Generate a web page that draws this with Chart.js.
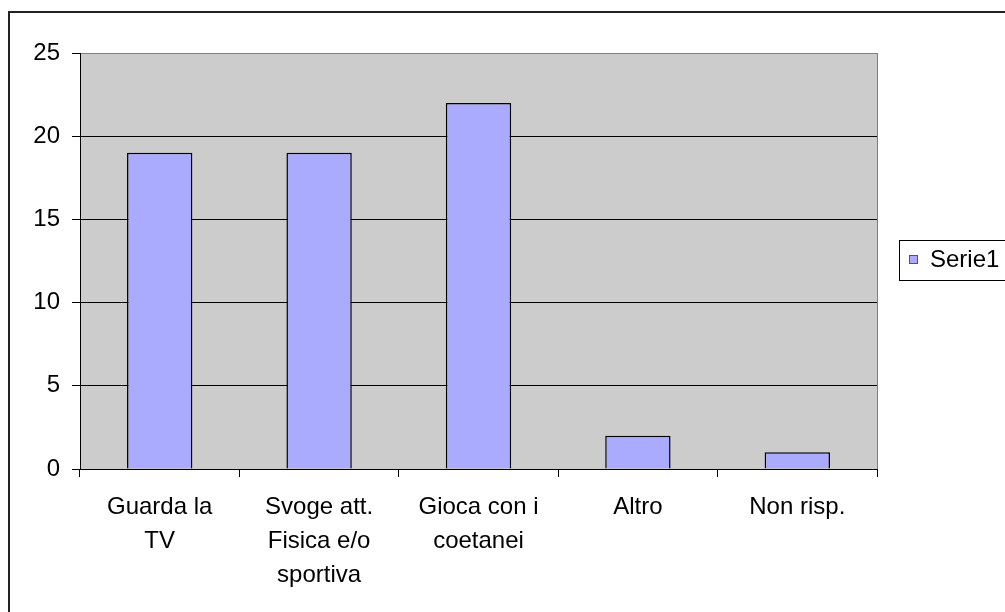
<!DOCTYPE html>
<html>
<head>
<meta charset="utf-8">
<script src="https://cdn.jsdelivr.net/npm/chart.js@4"></script>
<style>
  body { margin: 0; background: #fff; }
</style>
</head>
<body>
<canvas id="dataGraph" width="1005" height="612"></canvas>
<script>
// chart data
const categories = [
  ['Guarda la', 'TV'],
  ['Svoge att.', 'Fisica e/o', 'sportiva'],
  ['Gioca con i', 'coetanei'],
  'Altro',
  'Non risp.',
];
const serieName = 'Serie1';
const serieValues = [19, 19, 22, 2, 1];
const yTicks = [0, 5, 10, 15, 20, 25];

const labelFont = { family: 'Liberation Sans, Arial, sans-serif', size: 24, lineHeight: 1.42 };

// plugin: white page, outer frame, grey plot area and the boxed legend
const excelLook = {
  id: 'excelLook',
  beforeDraw(chart) {
    const c = chart.ctx;
    const a = chart.chartArea;
    c.save();
    c.fillStyle = '#fff';
    c.fillRect(0, 0, chart.width, chart.height);
    c.strokeStyle = '#222';
    c.lineWidth = 2;
    c.strokeRect(9, 12, chart.width + 20, chart.height + 20);
    c.fillStyle = '#CCCCCC';
    c.fillRect(a.left, a.top, a.right - a.left, a.bottom - a.top);
    c.restore();
  },
  afterDraw(chart) {
    const c = chart.ctx;
    const a = chart.chartArea;
    const ds = chart.data.datasets[0];
    c.save();
    // grey right edge of the plot area
    c.strokeStyle = '#808080';
    c.lineWidth = 1;
    c.beginPath();
    c.moveTo(Math.round(a.right) + 0.5, a.top);
    c.lineTo(Math.round(a.right) + 0.5, a.bottom);
    c.stroke();
    // legend box
    c.strokeStyle = '#000';
    c.strokeRect(899.5, 240.5, 200, 40);
    c.fillStyle = ds.backgroundColor;
    c.fillRect(909, 255, 8, 8);
    c.strokeStyle = '#555';
    c.strokeRect(909.5, 255.5, 8, 8);
    c.fillStyle = '#000';
    c.font = '24px "Liberation Sans", Arial, sans-serif';
    c.textBaseline = 'middle';
    c.fillText(ds.label, 930, 260);
    c.restore();
  },
};

const ctx = document.getElementById('dataGraph');
const myChart = new Chart(ctx, {
  type: 'bar',
  data: {
    labels: categories,
    datasets: [
      {
        label: serieName,
        data: serieValues,
        backgroundColor: '#AAAAFF',
        borderColor: '#000',
        borderWidth: 1.5,
        barPercentage: 0.41,
        categoryPercentage: 1,
      },
    ],
  },
  options: {
    responsive: false,
    animation: false,
    events: [],
    layout: {
      padding: { left: 0, top: 53, right: 128, bottom: 0 },
    },
    plugins: {
      legend: { display: false },
      tooltip: { enabled: false },
    },
    scales: {
      x: {
        grid: {
          drawOnChartArea: false,
          color: '#000',
          tickLength: 8,
        },
        border: { color: '#000', width: 1 },
        ticks: {
          color: '#000',
          font: labelFont,
          padding: 13,
          maxRotation: 0,
          autoSkip: false,
        },
        afterFit: (scale) => {
          scale.height = 143;
        },
      },
      y: {
        min: 0,
        max: 25,
        afterBuildTicks: (scale) => {
          scale.ticks = yTicks.map((v) => ({ value: v }));
        },
        grid: {
          color: (c) => (c.tick && c.tick.value === 25 ? '#808080' : '#000'),
          tickColor: '#000',
          tickLength: 8,
        },
        border: { color: '#000', width: 1 },
        ticks: {
          color: '#000',
          font: labelFont,
          padding: 12,
        },
        afterFit: (scale) => {
          scale.width = 80;
        },
      },
    },
  },
  plugins: [excelLook],
});
</script>
</body>
</html>
